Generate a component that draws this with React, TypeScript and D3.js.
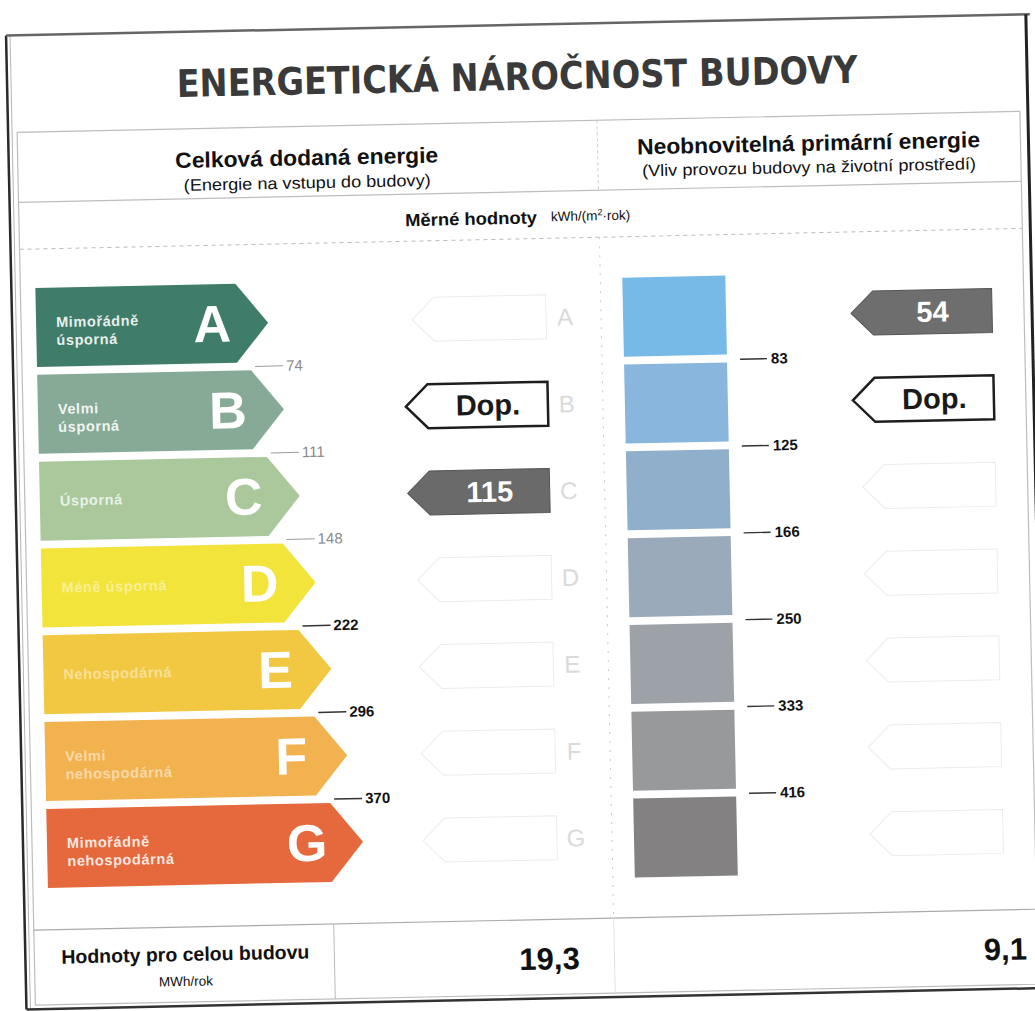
import React from 'react';
import * as d3 from 'd3';

// energy classes and their captions
const classes = ['A', 'B', 'C', 'D', 'E', 'F', 'G'];
const classNames = [
  ['Mimořádně', 'úsporná'],
  ['Velmi', 'úsporná'],
  ['Úsporná'],
  ['Méně úsporná'],
  ['Nehospodárná'],
  ['Velmi', 'nehospodárná'],
  ['Mimořádně', 'nehospodárná'],
];
const classColors = ['#3f7d6a', '#86aa96', '#aac89c', '#f3e43c', '#f2c843', '#f1b24f', '#e5693d'];
const nameOpacity = [0.9, 0.9, 0.75, 0.45, 0.45, 0.5, 0.85];

// class limits, kWh/(m2.rok)
const deliveredLimits = [74, 111, 148, 222, 296, 370];
const primaryLimits = [83, 125, 166, 250, 333, 416];
const primaryColors = ['#77b9e7', '#88b6dc', '#90afca', '#9aaaba', '#9da2a8', '#97999b', '#838181'];

// indicators
const deliveredMarks = [
  { cls: 'B', text: 'Dop.', filled: false },
  { cls: 'C', text: '115', filled: true },
];
const primaryMarks = [
  { cls: 'A', text: '54', filled: true },
  { cls: 'B', text: 'Dop.', filled: false },
];

// values for the whole building, MWh/rok
const buildingTotals = ['19,3', '9,1'];

const W = 1035;
const H = 1011;
const FONT = '"Liberation Sans", Arial, sans-serif';

const App = () => {
  const y = d3.scaleBand().domain(classes).range([278, 878]).paddingInner(0.09);
  const bw = y.bandwidth();
  const gap = y.step() - bw;
  const tipX = d3.scaleLinear().domain([0, classes.length - 1]).range([272, 356]);
  const line = d3.line();

  const leftArrow = (c, i) => {
    const t = y(c);
    const tip = tipX(i);
    return line([[40, t], [tip - 32, t], [tip, t + bw / 2], [tip - 32, t + bw], [40, t + bw]]) + 'Z';
  };

  // pointer arrow pointing left
  const pointer = (x0, x1, c, dy = 0) => {
    const cy = y(c) + bw / 2 + dy;
    return line([[x0, cy], [x0 + 22, cy - 22], [x1, cy - 22], [x1, cy + 22], [x0 + 22, cy + 22]]) + 'Z';
  };

  const boundary = (i) => y(classes[i]) + bw + gap / 2;

  const midX = [408, 550];
  const rightX = [855, 996];
  const rightShift = 3;

  return (
    <svg width={W} height={H} style={{ position: 'absolute', left: 0, top: 0, background: '#fff' }}>
      <g transform="rotate(-1.2 517 505)">
        {/* frame */}
        <line x1={16} y1={25} x2={16} y2={999} stroke="#2a2a2a" strokeWidth={2.5} />
        <line x1={20} y1={25} x2={20} y2={999} stroke="#b5b5b5" strokeWidth={1} />
        <line x1={16} y1={25} x2={1040} y2={25} stroke="#666" strokeWidth={2.5} />
        <line x1={1036} y1={25} x2={1036} y2={999} stroke="#222" strokeWidth={3} />
        <line x1={16} y1={999} x2={1040} y2={999} stroke="#333" strokeWidth={2.5} />
        <rect x={25} y={122} width={1003} height={873} fill="none" stroke="#bdbdbd" strokeWidth={1.2} />
        <line x1={25} y1={192} x2={1028} y2={192} stroke="#bdbdbd" strokeWidth={1.2} />
        <line x1={25} y1={239} x2={1028} y2={239} stroke="#bbb" strokeWidth={1} strokeDasharray="4,4" />
        <line x1={25} y1={920} x2={1028} y2={920} stroke="#aaa" strokeWidth={1.2} />
        <line x1={605} y1={122} x2={605} y2={192} stroke="#ccc" strokeWidth={1} strokeDasharray="3,3" />
        <line x1={605} y1={239} x2={605} y2={920} stroke="#c8c8c8" strokeWidth={1} strokeDasharray="2,7" />
        <line x1={325} y1={920} x2={325} y2={995} stroke="#bbb" strokeWidth={1} />
        <line x1={605} y1={920} x2={605} y2={995} stroke="#e2e2e2" strokeWidth={1} />

        {/* title */}
        <text x={526} y={90} textAnchor="middle" fontFamily='"DejaVu Sans", sans-serif' fontWeight="bold"
          fontSize={38} fill="#3a3a3a" textLength={681} lengthAdjust="spacingAndGlyphs">
          ENERGETICKÁ NÁROČNOST BUDOVY
        </text>

        {/* headers */}
        <g fontFamily={FONT} fill="#111" textAnchor="middle">
          <text x={314} y={161} fontSize={22} fontWeight="bold" textLength={263} lengthAdjust="spacingAndGlyphs">Celková dodaná energie</text>
          <text x={314} y={184} fontSize={16.5} textLength={247} lengthAdjust="spacingAndGlyphs">(Energie na vstupu do budovy)</text>
          <text x={816} y={157} fontSize={22} fontWeight="bold" textLength={343} lengthAdjust="spacingAndGlyphs">Neobnovitelná primární energie</text>
          <text x={816} y={179} fontSize={16.5} textLength={334} lengthAdjust="spacingAndGlyphs">(Vliv provozu budovy na životní prostředí)</text>
          <text x={477} y={224} fontSize={17.5} fontWeight="bold" textLength={132} lengthAdjust="spacingAndGlyphs">Měrné hodnoty</text>
        </g>
        <text x={557} y={222} fontFamily={FONT} fontSize={13.5} fill="#111">
          kWh/(m<tspan fontSize={9} dy={-5}>2</tspan><tspan dy={5}>·rok)</tspan>
        </text>

        {/* left scale arrows */}
        {classes.map((c, i) => {
          const cy = y(c) + bw / 2;
          const names = classNames[i];
          return (
            <g key={c}>
              <path d={leftArrow(c, i)} fill={classColors[i]} />
              {names.map((n, k) => (
                <text key={k} x={60} y={names.length === 1 ? cy + 5 : cy + k * 18}
                  fontFamily={FONT} fontWeight="bold" fontSize={14.5} letterSpacing={0.6}
                  fill="#fff" fillOpacity={nameOpacity[i]}>{n}</text>
              ))}
              <text x={tipX(i) - 56} y={cy + 18} textAnchor="middle" fontFamily={FONT}
                fontWeight="bold" fontSize={52} fill="#fff">{c}</text>
            </g>
          );
        })}

        {/* left limits */}
        {deliveredLimits.map((v, i) => {
          const yb = boundary(i);
          const tx = tipX(i);
          const dark = i >= 3;
          return (
            <g key={v}>
              <line x1={tx - 14} x2={tx + 14} y1={yb} y2={yb} stroke={dark ? '#333' : '#9a9a9a'} strokeWidth={dark ? 1.5 : 1} />
              <text x={tx + 17} y={yb + 5} fontFamily={FONT} fontSize={15} fontWeight={dark ? 'bold' : 'normal'}
                fill={dark ? '#111' : '#8a8a8a'}>{v}</text>
            </g>
          );
        })}

        {/* middle ghost pointers and letters */}
        {classes.map((c) => (
          <g key={'m' + c}>
            <path d={pointer(midX[0] + 8, midX[1], c)} fill="none" stroke="#ececec" strokeWidth={1} />
            <text x={569} y={y(c) + bw / 2 + 9} textAnchor="middle" fontFamily={FONT} fontSize={24} fill="#dadada">{c}</text>
          </g>
        ))}
        {deliveredMarks.map((m) => (
          <g key={'dm' + m.cls}>
            <path d={pointer(midX[0], midX[1], m.cls)} fill={m.filled ? '#6a6a6a' : '#fff'}
              stroke={m.filled ? '#555' : '#1e1e1e'} strokeWidth={m.filled ? 1 : 2.5} />
            <text x={(midX[0] + 22 + midX[1]) / 2} y={y(m.cls) + bw / 2 + 10} textAnchor="middle"
              fontFamily={FONT} fontWeight="bold" fontSize={29} fill={m.filled ? '#fff' : '#1a1a1a'}>{m.text}</text>
          </g>
        ))}

        {/* primary energy bars */}
        {classes.map((c, i) => (
          <rect key={'b' + c} x={627} y={y(c) + 2} width={103} height={bw} fill={primaryColors[i]} />
        ))}
        {primaryLimits.map((v, i) => {
          const yb = boundary(i) + 3;
          return (
            <g key={'p' + v}>
              <line x1={743} x2={770} y1={yb} y2={yb} stroke="#333" strokeWidth={1.4} />
              <text x={774} y={yb + 5} fontFamily={FONT} fontSize={15} fontWeight="bold" fill="#111">{v}</text>
            </g>
          );
        })}

        {/* right ghost pointers and marks */}
        {classes.map((c) => (
          <path key={'r' + c} d={pointer(rightX[0] + 8, rightX[1], c, rightShift)} fill="none" stroke="#ececec" strokeWidth={1} />
        ))}
        {primaryMarks.map((m) => (
          <g key={'pm' + m.cls}>
            <path d={pointer(rightX[0], rightX[1], m.cls, rightShift)} fill={m.filled ? '#6e6e6e' : '#fff'}
              stroke={m.filled ? '#555' : '#1e1e1e'} strokeWidth={m.filled ? 1 : 2.5} />
            <text x={(rightX[0] + 22 + rightX[1]) / 2} y={y(m.cls) + bw / 2 + rightShift + 10} textAnchor="middle"
              fontFamily={FONT} fontWeight="bold" fontSize={29} fill={m.filled ? '#fff' : '#1a1a1a'}>{m.text}</text>
          </g>
        ))}

        {/* whole building */}
        <g fontFamily={FONT} fill="#111" textAnchor="middle">
          <text x={176} y={954} fontSize={19.5} fontWeight="bold">Hodnoty pro celou budovu</text>
          <text x={176} y={979} fontSize={13.5}>MWh/rok</text>
          <text x={540} y={970} fontSize={31} fontWeight="bold">{buildingTotals[0]}</text>
          <text x={996} y={970} fontSize={31} fontWeight="bold">{buildingTotals[1]}</text>
        </g>
      </g>
    </svg>
  );
};

export default App;
